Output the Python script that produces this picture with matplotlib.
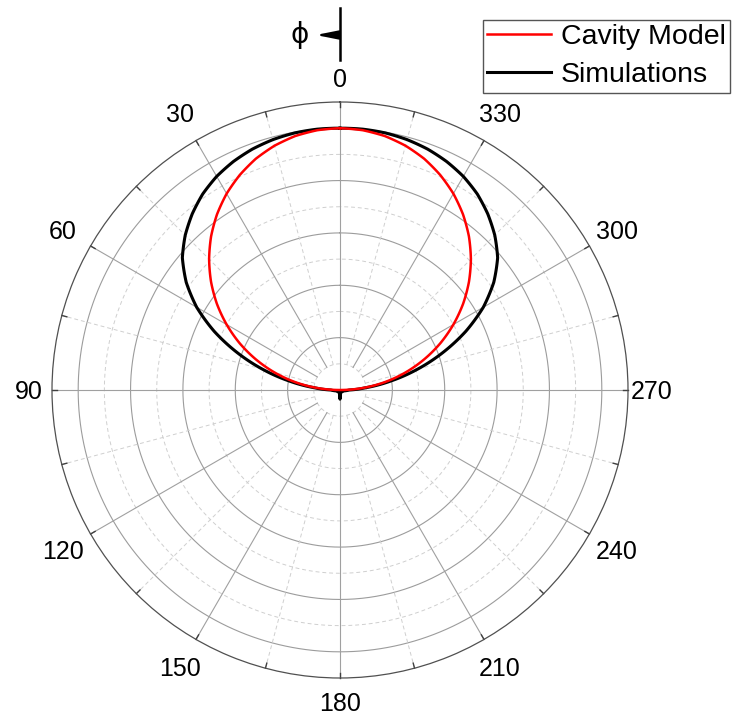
import numpy as np
import matplotlib.pyplot as plt
from matplotlib.patches import FancyArrowPatch
from matplotlib.transforms import ScaledTranslation

plt.rcParams['font.family'] = ['Liberation Sans', 'DejaVu Sans']

# phi in degrees, one half of the pattern (it is symmetric about 0-180)
phi_deg = [0, 5, 10, 15, 20, 25, 30, 35, 40, 45, 50, 55, 60, 65, 70, 75, 80, 85, 90,
           95, 100, 105, 110, 115, 120, 125, 130, 135, 140, 145, 150, 155, 160, 165, 170, 175, 180]

# normalised radiation pattern
cavity = [1.000, 0.996, 0.985, 0.966, 0.940, 0.906, 0.866, 0.819, 0.766, 0.707,
          0.643, 0.574, 0.500, 0.423, 0.342, 0.259, 0.174, 0.087, 0.000,
          0.0, 0.0, 0.0, 0.0, 0.0, 0.0, 0.0, 0.0, 0.0, 0.0, 0.0, 0.0, 0.0, 0.0, 0.0, 0.0, 0.0, 0.0]
simulated = [1.000, 1.000, 0.997, 0.990, 0.979, 0.963, 0.942, 0.914, 0.878, 0.836,
             0.786, 0.717, 0.632, 0.530, 0.418, 0.306, 0.196, 0.097, 0.035,
             0.025, 0.018, 0.014, 0.010, 0.010, 0.010, 0.010, 0.010, 0.010, 0.010,
             0.010, 0.010, 0.010, 0.010, 0.010, 0.010, 0.020, 0.035]

theta_ticks = [0, 30, 60, 90, 120, 150, 180, 210, 240, 270, 300, 330]
theta_labels = ['0', '30', '60', '90', '120', '150', '180', '210', '240', '270', '300', '330']
r_max = 1.1


def full_turn(values):
    # mirror the half pattern onto 180..360
    v = np.asarray(values, dtype=float)
    return np.concatenate([v, v[-2::-1]])


phi = np.asarray(phi_deg, dtype=float)
theta = np.deg2rad(np.concatenate([phi, 360 - phi[-2::-1]]))

W, H = 732, 716
fig = plt.figure(figsize=(W / 100, H / 100), dpi=100)
cx, cy, rad = 340, 390, 288
ax = fig.add_axes([(cx - rad) / W, (H - cy - rad) / H, 2 * rad / W, 2 * rad / H],
                  projection='polar')
ax.set_theta_zero_location('N')
ax.set_theta_direction(1)
ax.set_ylim(0, r_max)
ax.set_xticks([])
ax.set_yticks([])
ax.grid(False)
ax.spines['polar'].set_color('#505050')
ax.spines['polar'].set_linewidth(0.9)

# angle labels, centred on a circle just outside the frame
nudge = ax.transData + ScaledTranslation(0, -0.02, fig.dpi_scale_trans)
for a, lab in zip(theta_ticks, theta_labels):
    r_lab = 1.19 if a % 90 == 0 else 1.222
    ax.text(np.deg2rad(a), r_lab, lab, fontsize=18, ha='center', va='center',
            transform=nudge, clip_on=False)

# rings
ring = np.linspace(0, 2 * np.pi, 721)
for k in range(1, 11):
    rr = np.full_like(ring, k / 10)
    if k % 2 == 0:
        ax.plot(ring, rr, color='#9c9c9c', lw=0.8, zorder=1)
    else:
        ax.plot(ring, rr, color='#cfcfcf', lw=0.7, ls=(0, (4, 3)), zorder=1)

# spokes and outer ticks
for a in range(0, 360, 15):
    t = np.deg2rad(a)
    if a % 30 == 0:
        r0 = 0 if a % 90 == 0 else 0.1
        ax.plot([t, t], [r0, r_max], color='#a0a0a0', lw=0.8, zorder=1)
    else:
        ax.plot([t, t], [0.1, r_max], color='#cfcfcf', lw=0.7, ls=(0, (4, 3)), zorder=1)
    ax.plot([t, t], [r_max - 0.02, r_max], color='#404040', lw=1.0, zorder=2, clip_on=False)

sim_line, = ax.plot(theta, full_turn(simulated), color='black', lw=2.2, zorder=3,
                    label='Simulations')
cav_line, = ax.plot(theta, full_turn(cavity), color='#ff0000', lw=1.8, zorder=4,
                    label='Cavity Model')
# draw segments as curves in polar space rather than straight chords
for ln in (sim_line, cav_line):
    ln.get_path()._interpolation_steps = 12

handles, labels = ax.get_legend_handles_labels()
fig.legend(handles[::-1], labels[::-1], loc='upper right',
           bbox_to_anchor=(730 / W, 1 - 20 / H), fontsize=20.5, frameon=True,
           fancybox=False, edgecolor='#555555', framealpha=1,
           handlelength=2.25, handletextpad=0.35, borderpad=0.15,
           labelspacing=0.42, borderaxespad=0)

# phi direction marker above the 0 label
fig.add_artist(plt.Line2D([cx / W, cx / W], [1 - 8 / H, 1 - 60 / H],
                          transform=fig.transFigure, color='black', lw=1.8))
fig.add_artist(FancyArrowPatch(
    (cx / W, 1 - 35 / H), (313 / W, 1 - 35 / H), transform=fig.transFigure,
    arrowstyle='-|>,head_length=13,head_width=2.6', mutation_scale=1,
    color='black', lw=1.6))
fig.text(300 / W, 1 - 35 / H, 'ϕ', fontsize=20, ha='center', va='center',
         family=['DejaVu Sans'])

fig.savefig('out.png', dpi=100)
